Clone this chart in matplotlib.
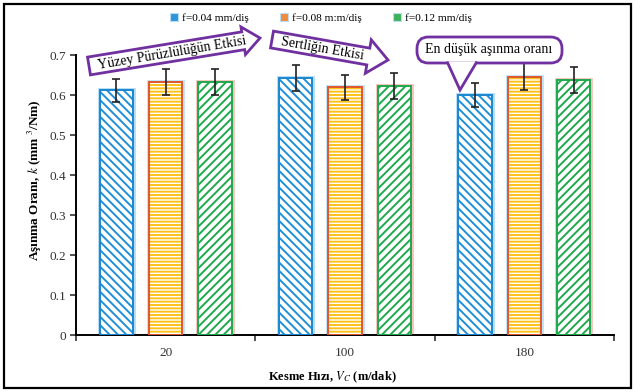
import numpy as np
import matplotlib
matplotlib.use("Agg")
from matplotlib import pyplot as plt
from matplotlib.patches import Polygon, Rectangle, FancyBboxPatch, Patch

plt.rcParams['font.family'] = ['Liberation Serif', 'DejaVu Serif']
plt.rcParams['mathtext.fontset'] = 'stix'
plt.rcParams['hatch.linewidth'] = 1.4

speeds = ["20", "100", "180"]
feeds = ["f=0.04 mm/diş", "f=0.08 m:m/diş", "f=0.12 mm/diş"]
wear_f004 = [0.612, 0.642, 0.600]
wear_f008 = [0.633, 0.619, 0.646]
wear_f012 = [0.633, 0.622, 0.637]
err_f004 = [0.029, 0.032, 0.030]
err_f008 = [0.032, 0.032, 0.034]
err_f012 = [0.032, 0.032, 0.032]

PURPLE = "#7030a0"

# hatch colour, edge colour, glow colour, hatch pattern, legend fill
styles = [
    ("#1f8fd8", "#1a86d0", "#b5dcf5", "\\\\\\\\", "#2e95dc"),
    ("#ffc21a", "#e0562c", "#bfe2f7", "-----", "#f08a3c"),
    ("#1ea94c", "#1ea94c", "#f6c2bc", "////", "#3cb35a"),
]

W, H = 635, 392


def px(x, y):
    # pixel position (origin top-left) -> figure fraction
    return (x / W, 1 - y / H)


def arrow_shape(x0, y0, x1, y1, half_body, half_head, head_len):
    d = np.array([x1 - x0, y1 - y0], float)
    length = np.hypot(*d)
    u = d / length
    n = np.array([-u[1], u[0]])
    p0 = np.array([x0, y0], float)
    base = p0 + u * (length - head_len)
    pts = [p0 + n * half_body, base + n * half_body, base + n * half_head,
           np.array([x1, y1], float), base - n * half_head,
           base - n * half_body, p0 - n * half_body]
    return [px(*p) for p in pts]


def on_line(x0, y0, x1, y1, xs):
    return y0 + (xs - x0) * (y1 - y0) / (x1 - x0)


fig = plt.figure(figsize=(6.35, 3.92), dpi=100)
ax = fig.add_axes([76 / W, 1 - 335 / H, 538 / W, 280 / H])

x = np.arange(len(speeds))
width = 0.185
offsets = [-0.275, 0.0, 0.275]
series = [wear_f004, wear_f008, wear_f012]
errors = [err_f004, err_f008, err_f012]

for vals, errs, off, (hc, ec, glow, hatch, _) in zip(series, errors, offsets, styles):
    pos = x + off
    ax.bar(pos, vals, width, facecolor="none", edgecolor=glow, linewidth=3.5, zorder=1)
    ax.bar(pos, vals, width, facecolor="white", edgecolor=hc, hatch=hatch,
           linewidth=0, zorder=2)
    ax.bar(pos, vals, width, facecolor="none", edgecolor=ec, linewidth=1.4, zorder=3)
    ax.errorbar(pos, vals, yerr=errs, fmt="none", ecolor="#222222",
                elinewidth=1.2, capsize=3, capthick=1.2, zorder=4, clip_on=False)

ax.set_xlim(-0.5, 2.5)
ax.set_ylim(0, 0.7)
ax.set_yticks(np.arange(0, 0.71, 0.1))
ax.set_yticklabels(["0", "0.1", "0.2", "0.3", "0.4", "0.5", "0.6", "0.7"])
ax.set_xticks([-0.5, 0.5, 1.5, 2.5])
ax.set_xticklabels([])
ax.set_xticks(x, minor=True)
ax.set_xticklabels(speeds, minor=True)
ax.tick_params(axis="x", which="minor", length=0, pad=9)
ax.tick_params(axis="both", which="major", direction="out", length=4, width=1.2,
               labelsize=9.5, colors="#333333", pad=3)
ax.tick_params(axis="x", which="minor", labelsize=9.5, labelcolor="#333333")
for side in ["top", "right"]:
    ax.spines[side].set_visible(False)
for side in ["left", "bottom"]:
    ax.spines[side].set_linewidth(1.4)

ax.set_ylabel("Aşınma Oranı, $k$ (mm $^{3}$/Nm)", fontsize=9.5, fontweight="bold")
ax.yaxis.set_label_coords(-0.06, 0.554)
ax.set_xlabel("Kesme Hızı, $V_C$ (m/dak)", fontsize=9, fontweight="bold")
ax.xaxis.set_label_coords(0.476, -0.125)

handles = [Patch(facecolor=s[4], edgecolor="#bcdcf0", linewidth=0.8) for s in styles]
fig.legend(handles, feeds, loc="center", bbox_to_anchor=(321 / W, 1 - 18 / H), ncol=3,
           frameon=False, fontsize=8.2, handlelength=0.7, handleheight=0.7,
           handletextpad=0.3, columnspacing=2.8)

# effect arrows
arr1 = (89, 66, 260, 38)
fig.patches.append(Polygon(arrow_shape(*arr1, 9, 14, 17), closed=True,
                           transform=fig.transFigure, facecolor="white",
                           edgecolor=PURPLE, linewidth=2, zorder=10))
fig.text(*px(172, on_line(*arr1, 172) + 0.5), "Yüzey Pürüzlülüğün Etkisi",
         rotation=9.5, ha="center", va="center", fontsize=10, zorder=11)

arr2 = (272, 39.5, 388, 60)
fig.patches.append(Polygon(arrow_shape(*arr2, 8.5, 17, 20), closed=True,
                           transform=fig.transFigure, facecolor="white",
                           edgecolor=PURPLE, linewidth=2, zorder=10))
fig.text(*px(322, on_line(*arr2, 322) + 0.5), "Sertliğin Etkisi", rotation=-10,
         ha="center", va="center", fontsize=10, zorder=11)

# callout
x0, y0 = px(417, 63)
x1, y1 = px(562, 37)
box = FancyBboxPatch((x0, y0), x1 - x0, y1 - y0, boxstyle="round,pad=0,rounding_size=0.018",
                     transform=fig.transFigure, facecolor="white", edgecolor=PURPLE,
                     linewidth=2, zorder=10, mutation_aspect=W / H)
fig.patches.append(box)
tail = Polygon([px(447, 61.5), px(460, 90), px(477, 61.5)], closed=False,
               transform=fig.transFigure, facecolor="white", edgecolor=PURPLE,
               linewidth=2, zorder=10.5)
fig.patches.append(tail)
fig.text(*px(489, 49.5), "En düşük aşınma oranı", ha="center", va="center",
         fontsize=10, zorder=11)

fig.patches.append(Rectangle(px(4, 388), (631 - 4) / W, (388 - 4) / H,
                             transform=fig.transFigure, fill=False,
                             edgecolor="black", linewidth=1.6, zorder=20))

fig.savefig("out.png", dpi=100)
